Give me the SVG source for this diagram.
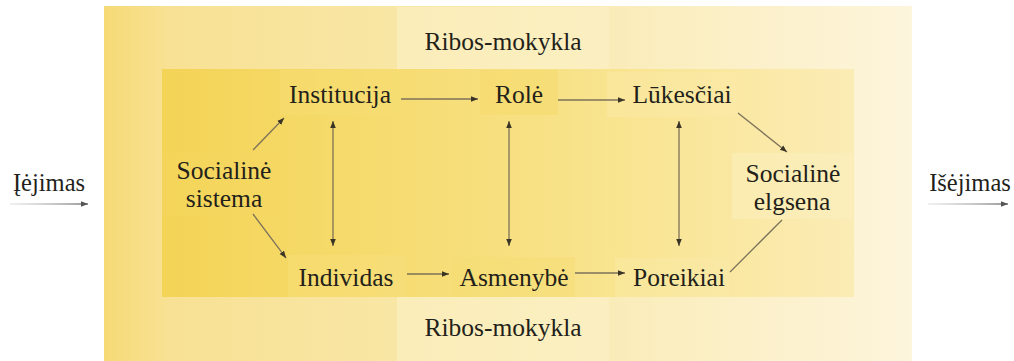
<svg xmlns="http://www.w3.org/2000/svg" width="1014" height="361" viewBox="0 0 1014 361">
  <defs>
    <linearGradient id="outerG" x1="104" y1="0" x2="912" y2="0" gradientUnits="userSpaceOnUse">
      <stop offset="0" stop-color="#f6da76"/>
      <stop offset="0.08" stop-color="#f8e194"/>
      <stop offset="0.5" stop-color="#f9e9ad"/>
      <stop offset="1" stop-color="#fdf5dc"/>
    </linearGradient>
    <linearGradient id="innerG" x1="162" y1="0" x2="855" y2="0" gradientUnits="userSpaceOnUse">
      <stop offset="0" stop-color="#f4d456"/>
      <stop offset="0.35" stop-color="#f6dc72"/>
      <stop offset="0.7" stop-color="#f9e594"/>
      <stop offset="1" stop-color="#fbecb6"/>
    </linearGradient>
    <linearGradient id="fadeA" x1="10" y1="0" x2="88" y2="0" gradientUnits="userSpaceOnUse">
      <stop offset="0" stop-color="#bbb" stop-opacity="0.3"/>
      <stop offset="1" stop-color="#777"/>
    </linearGradient>
    <linearGradient id="fadeB" x1="928" y1="0" x2="1008" y2="0" gradientUnits="userSpaceOnUse">
      <stop offset="0" stop-color="#bbb" stop-opacity="0.3"/>
      <stop offset="1" stop-color="#777"/>
    </linearGradient>
    <marker id="ah" viewBox="0 0 10 10" refX="10" refY="5" markerWidth="7" markerHeight="7" markerUnits="userSpaceOnUse" orient="auto-start-reverse">
      <path d="M0,1 L10,5 L0,9 z" fill="#3a3426"/>
    </marker>
    <marker id="ahg" viewBox="0 0 10 10" refX="10" refY="5" markerWidth="7" markerHeight="7" markerUnits="userSpaceOnUse" orient="auto">
      <path d="M0,1 L10,5 L0,9 z" fill="#555"/>
    </marker>
  </defs>
  <style>
    text { font-family: "Liberation Serif", "DejaVu Serif", serif; font-size: 25.5px; fill: #231f1a; text-anchor: middle; }
    .c { stroke: #7d725a; stroke-width: 1.3; fill: none; }
  </style>

  <!-- backgrounds -->
  <rect x="104" y="6" width="808" height="355" fill="url(#outerG)"/>
  <rect x="397" y="7" width="212" height="62" fill="#fcf1c8" opacity="0.6"/>
  <rect x="397" y="297" width="212" height="64" fill="#fcf1c8" opacity="0.6"/>
  <rect x="162" y="69" width="692" height="228" fill="url(#innerG)"/>

  <g id="ribos-top"><text x="503" y="50">Ribos-mokykla</text></g>
  <g id="ribos-bottom"><text x="503" y="336">Ribos-mokykla</text></g>

  <g id="iejimas"><text x="49" y="191" style="font-size:24.5px">Įėjimas</text></g>
  <g id="isejimas"><text x="970" y="191" style="font-size:24.5px">Išėjimas</text></g>

  <g id="socialine-sistema">
    <rect x="162" y="153" width="121" height="63" fill="#f5d862" opacity="0.4"/>
    <text x="224" y="179">Socialinė</text>
    <text x="224" y="207">sistema</text>
  </g>
  <g id="institucija">
    <rect x="280" y="70" width="122" height="45" fill="#f8df76" opacity="0.4"/>
    <text x="340" y="103">Institucija</text>
  </g>
  <g id="role">
    <rect x="480" y="70" width="78" height="45" fill="#f6da6c" opacity="0.6"/>
    <text x="519" y="103">Rolė</text>
  </g>
  <g id="lukesciai">
    <rect x="607" y="72" width="130" height="45" fill="#fbeaa8" opacity="0.5"/>
    <text x="682" y="103">Lūkesčiai</text>
  </g>
  <g id="socialine-elgsena">
    <rect x="732" y="153" width="121" height="66" fill="#fcefc0" opacity="0.5"/>
    <text x="793" y="182">Socialinė</text>
    <text x="792" y="210">elgsena</text>
  </g>
  <g id="individas">
    <rect x="288" y="255" width="118" height="42" fill="#f8e084" opacity="0.3"/>
    <text x="346" y="286">Individas</text>
  </g>
  <g id="asmenybe">
    <rect x="452" y="257" width="123" height="40" fill="#f6dc70" opacity="0.4"/>
    <text x="514" y="286">Asmenybė</text>
  </g>
  <g id="poreikiai">
    <rect x="615" y="258" width="115" height="39" fill="#fbeaaa" opacity="0.4"/>
    <text x="679" y="286">Poreikiai</text>
  </g>

  <g id="connectors">
    <line x1="10" y1="204" x2="88" y2="204" stroke="url(#fadeA)" stroke-width="1.5" marker-end="url(#ahg)"/>
    <line x1="928" y1="204" x2="1008" y2="204" stroke="url(#fadeB)" stroke-width="1.5" marker-end="url(#ahg)"/>
    <line class="c" x1="253" y1="150" x2="284" y2="118" marker-end="url(#ah)"/>
    <line class="c" x1="253" y1="214" x2="286" y2="258" marker-end="url(#ah)"/>
    <line class="c" x1="401" y1="99" x2="478" y2="99" marker-end="url(#ah)"/>
    <line class="c" x1="558" y1="100" x2="625" y2="100" marker-end="url(#ah)"/>
    <line class="c" x1="333" y1="121" x2="333" y2="246" marker-start="url(#ah)" marker-end="url(#ah)"/>
    <line class="c" x1="509" y1="121" x2="509" y2="246" marker-start="url(#ah)" marker-end="url(#ah)"/>
    <line class="c" x1="679" y1="121" x2="679" y2="246" marker-start="url(#ah)" marker-end="url(#ah)"/>
    <line class="c" x1="407" y1="274" x2="449" y2="274" marker-end="url(#ah)"/>
    <line class="c" x1="575" y1="273" x2="625" y2="273" marker-end="url(#ah)"/>
    <line class="c" x1="738" y1="113" x2="787" y2="152" marker-end="url(#ah)"/>
    <line class="c" x1="730" y1="272" x2="782" y2="220"/>
  </g>
</svg>
